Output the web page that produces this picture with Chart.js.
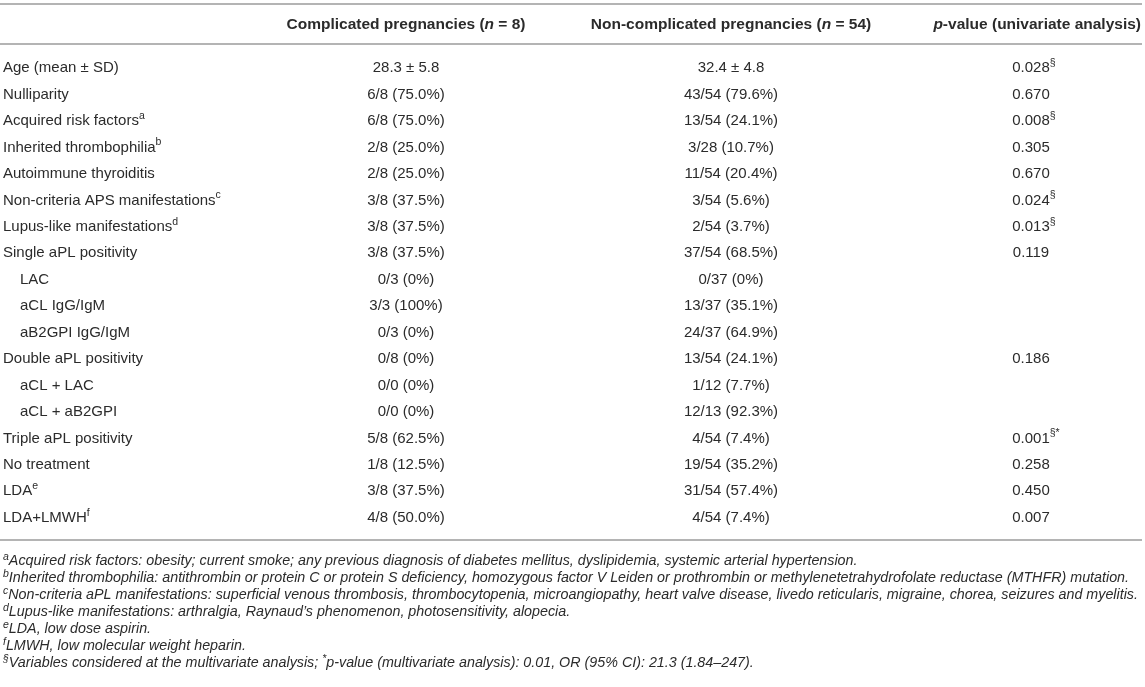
<!DOCTYPE html>
<html>
<head>
<meta charset="utf-8">
<script src="https://cdn.jsdelivr.net/npm/chart.js@4"></script>
<style>
  html, body { margin: 0; padding: 0; background: #fff; }
  #wrap { width: 1145px; height: 687px; }
</style>
</head>
<body>
<div id="wrap"><canvas id="table" width="1145" height="687"></canvas></div>
<script>

const rowLabels = ["Age (mean ± SD)", "Nulliparity", "Acquired risk factors", "Inherited thrombophilia", "Autoimmune thyroiditis",
  "Non-criteria APS manifestations", "Lupus-like manifestations", "Single aPL positivity", "LAC", "aCL IgG/IgM", "aB2GPI IgG/IgM",
  "Double aPL positivity", "aCL + LAC", "aCL + aB2GPI", "Triple aPL positivity", "No treatment", "LDA", "LDA+LMWH"];
const rowNotes = ["", "", "a", "b", "", "c", "d", "", "", "", "", "", "", "", "", "", "e", "f"];
const subRows = ["LAC", "aCL IgG/IgM", "aB2GPI IgG/IgM", "aCL + LAC", "aCL + aB2GPI"];

const complicated = ["28.3 ± 5.8", "6/8 (75.0%)", "6/8 (75.0%)", "2/8 (25.0%)", "2/8 (25.0%)", "3/8 (37.5%)", "3/8 (37.5%)",
  "3/8 (37.5%)", "0/3 (0%)", "3/3 (100%)", "0/3 (0%)", "0/8 (0%)", "0/0 (0%)", "0/0 (0%)", "5/8 (62.5%)", "1/8 (12.5%)",
  "3/8 (37.5%)", "4/8 (50.0%)"];
const nonComplicated = ["32.4 ± 4.8", "43/54 (79.6%)", "13/54 (24.1%)", "3/28 (10.7%)", "11/54 (20.4%)", "3/54 (5.6%)",
  "2/54 (3.7%)", "37/54 (68.5%)", "0/37 (0%)", "13/37 (35.1%)", "24/37 (64.9%)", "13/54 (24.1%)", "1/12 (7.7%)",
  "12/13 (92.3%)", "4/54 (7.4%)", "19/54 (35.2%)", "31/54 (57.4%)", "4/54 (7.4%)"];
const pValues = ["0.028", "0.670", "0.008", "0.305", "0.670", "0.024", "0.013", "0.119", "", "", "", "0.186", "", "",
  "0.001", "0.258", "0.450", "0.007"];
const pNotes = ["§", "", "§", "", "", "§", "§", "", "", "", "", "", "", "", "§*", "", "", ""];

const footnotes = [
  ["a", "Acquired risk factors: obesity; current smoke; any previous diagnosis of diabetes mellitus, dyslipidemia, systemic arterial hypertension."],
  ["b", "Inherited thrombophilia: antithrombin or protein C or protein S deficiency, homozygous factor V Leiden or prothrombin or methylenetetrahydrofolate reductase (MTHFR) mutation."],
  ["c", "Non-criteria aPL manifestations: superficial venous thrombosis, thrombocytopenia, microangiopathy, heart valve disease, livedo reticularis, migraine, chorea, seizures and myelitis."],
  ["d", "Lupus-like manifestations: arthralgia, Raynaud’s phenomenon, photosensitivity, alopecia."],
  ["e", "LDA, low dose aspirin."],
  ["f", "LMWH, low molecular weight heparin."],
  ["§", "Variables considered at the multivariate analysis; |*|p-value (multivariate analysis): 0.01, OR (95% CI): 21.3 (1.84–247)."]
];

const FONT = "'Liberation Sans', Arial, Helvetica, sans-serif";
const INK = "#2b2b2b";
const RULE = "#b4b4b4";

// column anchors on the x scale
const colX = { label: 3, comp: 406, non: 731, p: 1031 };

function col(x, texts){
  return rowLabels.map((r, i) => ({ x: x, y: r, t: texts[i] }));
}

// draws a run of [text, font, raise] pieces
function drawRun(ctx, parts, x, y, align, baseOnly){
  let total = 0, base = 0;
  for (const p of parts){
    ctx.font = p[1];
    const w = ctx.measureText(p[0]).width;
    total += w;
    if (!p[2]) base += w;
  }
  let cx = x;
  if (align === "center") cx = x - (baseOnly ? base : total) / 2;
  if (align === "right") cx = x - total;
  for (const p of parts){
    ctx.font = p[1];
    ctx.fillText(p[0], cx, y - (p[2] || 0));
    cx += ctx.measureText(p[0]).width;
  }
}

const tablePlugin = {
  id: "tableText",
  afterDatasetsDraw(chart){
    const ctx = chart.ctx;
    const area = chart.chartArea;
    const W = chart.width;

    ctx.save();
    ctx.textBaseline = "middle";
    ctx.textAlign = "left";

    // rules
    ctx.fillStyle = RULE;
    ctx.fillRect(0, 3, W - 3, 2);
    ctx.fillRect(0, area.top - 12, W - 3, 2);
    ctx.fillRect(0, area.bottom + 8, W - 3, 2);
    ctx.fillStyle = INK;

    // header
    const hb = "bold 15.5px " + FONT, hi = "italic bold 15.5px " + FONT;
    const hy = 25;
    drawRun(ctx, [["Complicated pregnancies (", hb], ["n", hi], [" = 8)", hb]], colX.comp, hy, "center");
    drawRun(ctx, [["Non-complicated pregnancies (", hb], ["n", hi], [" = 54)", hb]], colX.non, hy, "center");
    drawRun(ctx, [["p", hi], ["-value (univariate analysis)", hb]], 1141, hy, "right");

    // cells
    const body = "15px " + FONT, sup = "10.5px " + FONT;
    chart.data.datasets.forEach((ds, di) => {
      const meta = chart.getDatasetMeta(di);
      meta.data.forEach((el, i) => {
        const d = ds.data[i];
        if (!d.t) return;
        if (ds.kind === "label"){
          const indent = subRows.includes(d.y) ? 17 : 0;
          const parts = [[d.t, body]];
          if (rowNotes[i]) parts.push([rowNotes[i], sup, 5]);
          drawRun(ctx, parts, el.x + indent, el.y, "left");
        } else if (ds.kind === "p"){
          const parts = [[d.t, body]];
          if (pNotes[i]) parts.push([pNotes[i], sup, 5]);
          drawRun(ctx, parts, el.x, el.y, "center", true);
        } else {
          drawRun(ctx, [[d.t, body]], el.x, el.y, "center");
        }
      });
    });

    // footnotes
    const fi = "italic 14.3px " + FONT, fs = "italic 10.5px " + FONT;
    footnotes.forEach((f, k) => {
      const y = area.bottom + 30 + k * 17;
      const parts = [[f[0], fs, 4]];
      f[1].split("|").forEach(s => {
        if (s === "*") parts.push(["*", fs, 4]);
        else parts.push([s, fi]);
      });
      drawRun(ctx, parts, 3, y, "left");
    });

    ctx.restore();
  }
};

new Chart("table", {
  type: "scatter",
  data: {
    datasets: [
      { kind: "label", data: col(colX.label, rowLabels), pointRadius: 0 },
      { kind: "cell", data: col(colX.comp, complicated), pointRadius: 0 },
      { kind: "cell", data: col(colX.non, nonComplicated), pointRadius: 0 },
      { kind: "p", data: col(colX.p, pValues), pointRadius: 0 }
    ]
  },
  options: {
    responsive: false,
    animation: false,
    events: [],
    layout: { padding: { top: 55, bottom: 156, left: 0, right: 0 } },
    plugins: { legend: { display: false }, tooltip: { enabled: false } },
    scales: {
      x: { type: "linear", min: 0, max: 1145, display: false },
      y: { type: "category", labels: rowLabels, offset: true, display: false }
    }
  },
  plugins: [tablePlugin]
});

</script>
</body>
</html>
